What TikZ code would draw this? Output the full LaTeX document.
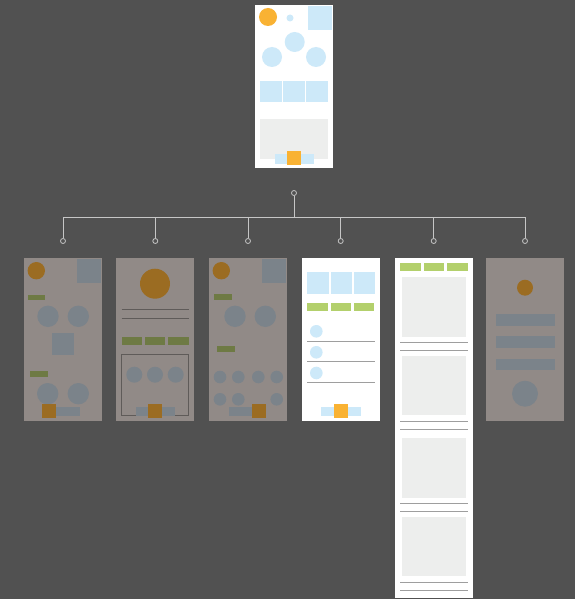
\documentclass[tikz,border=0pt]{standalone}
\definecolor{bg}{HTML}{515151}
\definecolor{wirecol}{HTML}{C6C6C6}
\definecolor{amber}{HTML}{F9B233}
\definecolor{sky}{HTML}{CDE9F9}
\definecolor{panel}{HTML}{EDEEED}
\definecolor{leaf}{HTML}{B3D06C}
\definecolor{rulecol}{HTML}{9E9E9E}
\definecolor{shade}{HTML}{918A87}
\definecolor{shadeamber}{HTML}{9B6C22}
\definecolor{shadesky}{HTML}{7B838A}
\definecolor{shadeleaf}{HTML}{6E7A44}
\definecolor{shaderule}{HTML}{5F5B59}
\begin{document}
\begin{tikzpicture}[
      x=1pt, y=-1pt,
      sheet/.style={fill=white, minimum width=78pt, minimum height=163pt, inner sep=0pt, outer sep=0pt},
      dimsheet/.style={sheet, fill=shade},
      socket/.style={circle, draw=wirecol, fill=bg, line width=0.8pt, inner sep=0pt, minimum size=5pt},
      wire/.style={draw=wirecol, line width=0.9pt},
      hair/.style={draw=rulecol, line width=1pt},
      dimhair/.style={draw=shaderule, line width=0.8pt}
    ]
      \fill[bg] (0,0) rectangle (575,599);
      \useasboundingbox (0,0) rectangle (575,599);

      % top screen
      \node[sheet] (card0) at (294,86.5) {};
      \fill[amber] (268,17) circle (9pt);
      \fill[sky] (290,18) circle (3.5pt);
      \fill[sky] (308,6) rectangle (332,30);
      \fill[sky] (294.7,42) circle (10pt);
      \fill[sky] (272,57) circle (10pt);
      \fill[sky] (316,57) circle (10pt);
      \foreach \x in {260,283,306}
        \fill[sky] (\x,81) rectangle ++(22,21);
      \fill[panel] (260,119) rectangle (328,159);
      \fill[sky] (275,154) rectangle (314,164);
      \fill[amber] (287,151) rectangle (301,165);

      % tree
      \node[socket] (root) at (294,193) {};
      \coordinate (bus) at (294,217);
      \foreach \x [count=\i] in {63,155.3,248,340.7,433.7,525}{
        \node[socket] (pin\i) at (\x,241) {};
        \draw[wire] (root) -- (bus) -| (pin\i);
      }

      % screen 1
      \node[dimsheet] (card1) at (63,339.5) {};
      \fill[shadeamber] (36.3,270.7) circle (8.7pt);
      \fill[shadesky] (77,259) rectangle (101.3,283.3);
      \fill[shadeleaf] (27.7,294.7) rectangle (45,300.3);
      \fill[shadesky] (48,316.3) circle (10.7pt) (78.3,316.3) circle (10.7pt);
      \fill[shadesky] (52,333) rectangle (73.7,354.7);
      \fill[shadeleaf] (30.3,371.3) rectangle (47.7,377.3);
      \fill[shadesky] (47.7,393.7) circle (10.7pt) (78.3,393.7) circle (10.7pt);
      \fill[shadesky] (42,406.7) rectangle (79.7,416.3);
      \fill[shadeamber] (42,404.3) rectangle (56,418);

      % screen 2
      \node[dimsheet] (card2) at (155.3,339.5) {};
      \fill[shadeamber] (155,283.7) circle (15pt);
      \foreach \y in {309.3,318.3}
        \draw[dimhair] (121.7,\y) -- (188.7,\y);
      \foreach \x in {121.7,145,168.3}
        \fill[shadeleaf] (\x,337) rectangle ++(20.4,8.3);
      \draw[dimhair] (121.3,354) rectangle (188.7,415.3);
      \foreach \x in {134.3,155,175.7}
        \fill[shadesky] (\x,374.7) circle (8pt);
      \fill[shadesky] (136,406.7) rectangle (174.7,416.3);
      \fill[shadeamber] (148,404.3) rectangle (162.3,418);

      % screen 3
      \node[dimsheet] (card3) at (248,339.5) {};
      \fill[shadeamber] (221.3,270.7) circle (8.7pt);
      \fill[shadesky] (262,259) rectangle (286.3,283.3);
      \fill[shadeleaf] (214.3,294.3) rectangle (232,300.3);
      \fill[shadesky] (235,316.3) circle (10.7pt) (265.3,316.3) circle (10.7pt);
      \fill[shadeleaf] (217,346) rectangle (234.7,352);
      \foreach \x in {220,238.3,258.3,276.7}
        \fill[shadesky] (\x,377) circle (6.3pt);
      \foreach \x in {220,238.3,276.7}
        \fill[shadesky] (\x,399.3) circle (6.3pt);
      \fill[shadesky] (228.7,406.7) rectangle (266,416.3);
      \fill[shadeamber] (252,404.3) rectangle (266,418);

      % screen 4
      \node[sheet] (card4) at (341,339.5) {};
      \foreach \x in {307.3,330.5,353.6}
        \fill[sky] (\x,272.3) rectangle ++(21.2,21.7);
      \foreach \x in {307.3,330.7,354}
        \fill[leaf] (\x,303.3) rectangle ++(20.4,8);
      \foreach \y in {331.3,352.3,373}
        \fill[sky] (316.3,\y) circle (6.3pt);
      \foreach \y in {341.3,361.7,382.3}
        \draw[hair] (307.3,\y) -- (374.7,\y);
      \fill[sky] (321.3,406.7) rectangle (360.7,416.3);
      \fill[amber] (334,404.3) rectangle (348,418);

      % screen 5
      \node[sheet, minimum height=339.5pt] (card5) at (433.7,427.75) {};
      \foreach \x in {400,423.7,447}
        \fill[leaf] (\x,263.3) rectangle ++(20.5,8);
      \foreach \y in {277.3,356,438.3,517}
        \fill[panel] (401.7,\y) rectangle ++(64.3,59.4);
      \foreach \y in {342.3,350.3,421,429.3,503,511,582.3,590.3}
        \draw[hair] (400.3,\y) -- (467.7,\y);

      % screen 6
      \node[dimsheet] (card6) at (525,339.5) {};
      \fill[shadeamber] (525,287.7) circle (8pt);
      \foreach \y in {314,336,358.7}
        \fill[shadesky] (495.7,\y) rectangle ++(59,11.7);
      \fill[shadesky] (525,393.7) circle (13pt);
    \end{tikzpicture}
\end{document}
